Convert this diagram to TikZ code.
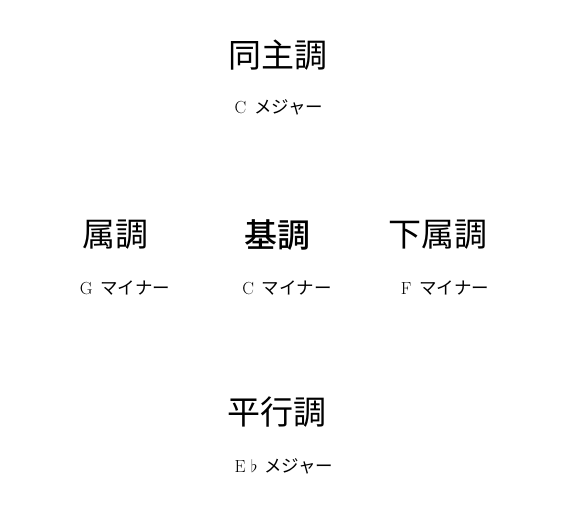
\documentclass[tikz,border=0pt]{standalone}
\usepackage{fontspec}
\newfontfamily\cjk[BoldFont={Noto Sans CJK JP Medium}]{Noto Sans CJK JP}
\usetikzlibrary{positioning}

\tikzset{
    keyname/.style={font=\cjk\fontsize{33}{36}\selectfont, inner sep=0pt},
    keyname bold/.style={keyname, font=\cjk\bfseries\fontsize{33}{36}\selectfont},
    keysub/.style={font=\cjk\fontsize{17.5}{20}\selectfont, inner sep=0pt},
}
\newcommand{\keyletter}[1]{{\rmfamily #1}\hspace{0.45em}}

\begin{document}
\begin{tikzpicture}[x=1pt, y=1pt]
    \useasboundingbox (0, 0) rectangle (580, 518); % page frame

    % top: parallel major
    \node[keyname] (same) at (278, 463) {同主調};
    \node[keysub] (same sub) at (279, 411) {\keyletter{C}メジャー};

    % middle row
    \node[keyname] (dom) at (115, 283) {属調};
    \node[keyname bold] (tonic) at (277, 283) {基調};
    \node[keyname] (subdom) at (438, 283) {下属調};
    \foreach \name/\x/\label in {dom/125/G, tonic/287/C, subdom/445/F}
        \node[keysub] (\name sub) at (\x, 230) {\keyletter{\label}マイナー};

    % bottom: relative major
    \node[keyname] (rel) at (277, 106) {平行調};
    \node[keysub] (rel sub) at (284, 52) {{\rmfamily E\hspace{0.3em}$\flat$}\hspace{0.4em}メジャー};
\end{tikzpicture}
\end{document}
